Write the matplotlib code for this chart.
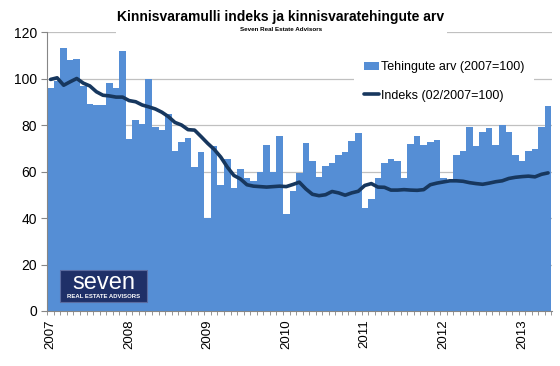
import numpy as np
import matplotlib
matplotlib.use('Agg')
import matplotlib.pyplot as plt
from matplotlib.patches import Rectangle

plt.rcParams['font.family'] = ['Liberation Sans', 'DejaVu Sans']

years = ['2007', '2008', '2009', '2010', '2011', '2012', '2013']

# Tehingute arv (2007=100), monthly Jan 2007 - May 2013
tehingud = [96.0, 99.0, 113.3, 108.0, 108.6, 96.7, 89.0, 88.8, 88.5, 98.0, 96.0, 111.8,
            74.0, 82.0, 80.3, 99.9, 79.0, 78.0, 84.7, 69.0, 72.6, 74.2, 62.0, 68.6,
            40.0, 70.8, 54.1, 65.3, 52.7, 61.1, 57.1, 55.8, 60.0, 71.2, 60.0, 75.2,
            41.9, 51.4, 59.4, 72.2, 64.4, 57.6, 62.4, 63.5, 67.3, 68.3, 73.2, 76.4,
            44.5, 48.1, 57.1, 63.6, 65.4, 64.6, 57.4, 72.0, 75.4, 71.6, 72.6, 73.5,
            57.4, 56.5, 67.0, 69.0, 79.1, 71.1, 77.0, 78.9, 71.5, 80.0, 77.1, 67.0,
            64.5, 68.8, 69.6, 79.1, 88.2]

# Indeks (02/2007=100)
indeks = [99.6, 100.3, 97.1, 98.6, 100.0, 98.0, 96.8, 94.3, 92.8, 92.5, 92.0, 92.0,
          90.5, 90.0, 88.6, 87.8, 86.9, 85.5, 83.6, 81.1, 80.0, 78.0, 77.8, 75.0,
          72.1, 69.5, 66.2, 61.9, 58.3, 56.8, 54.3, 53.7, 53.5, 53.3, 53.5, 53.7,
          53.5, 54.4, 55.4, 52.5, 50.2, 49.6, 50.0, 51.4, 50.8, 49.8, 50.8, 51.5,
          54.0, 54.8, 53.3, 53.2, 52.0, 52.0, 52.2, 52.0, 51.9, 52.2, 54.3, 55.0,
          55.5, 56.0, 56.0, 55.8, 55.2, 54.8, 54.5, 55.0, 55.6, 56.0, 57.0, 57.5,
          57.8, 58.0, 57.7, 58.8, 59.4]

x = np.arange(len(tehingud))

fig = plt.figure(figsize=(5.6, 3.66), dpi=100)
ax = fig.add_axes([47.3/560, 55/366, 504.7/560, 279/366])

bars = ax.bar(x, tehingud, width=1.0, color='#558ED5', label='Tehingute arv (2007=100)', zorder=2)
line, = ax.plot(x, indeks, color='#17375E', linewidth=2.6, label='Indeks (02/2007=100)', zorder=3,
                solid_capstyle='round')

ax.set_ylim(0, 120)
ax.set_xlim(-0.5, len(x) - 0.4)
ax.set_yticks(np.arange(0, 121, 20))
ax.yaxis.grid(True, color='#C0C0C0', linewidth=0.9, zorder=0)
ax.set_axisbelow(True)

ax.set_xticks(x[::12])
ax.set_xticklabels(years, rotation=90)
ax.set_xticks(np.arange(-0.5, len(x), 1), minor=True)
ax.tick_params(axis='x', which='major', length=0, pad=6, labelsize=9.5)
ax.tick_params(axis='x', which='minor', length=3, color='#868686', direction='out')
ax.tick_params(axis='y', length=4, color='#868686', labelsize=10)

for s in ['top', 'right']:
    ax.spines[s].set_visible(False)
for s in ['left', 'bottom']:
    ax.spines[s].set_color('#868686')

leg = ax.legend([bars, line], ['Tehingute arv (2007=100)', 'Indeks (02/2007=100)'],
                loc='upper left', bbox_to_anchor=(300/504.7, 1 - 13/279), frameon=True,
                fancybox=False, edgecolor='none', facecolor='white', framealpha=1,
                fontsize=9, labelspacing=1.3, handlelength=1.2, handletextpad=0.2,
                borderpad=0.8)

# title block hides the top gridline like in the original
fig.add_artist(Rectangle((116/560, 1 - 35/366), 331/560, 35/366, transform=fig.transFigure,
                         facecolor='white', edgecolor='none', zorder=1))
fig.text(281/560, 1 - 17/366, 'Kinnisvaramulli indeks ja kinnisvaratehingute arv',
         ha='center', va='center', fontsize=10, fontweight='bold', zorder=2)
fig.text(281/560, 1 - 29.5/366, 'Seven Real Estate Advisors', ha='center', va='center',
         fontsize=4.5, fontweight='bold', zorder=2)

# logo
fig.add_artist(Rectangle((60/560, 1 - 302/366), 87/560, 32/366, transform=fig.transFigure,
                         facecolor='#1F3068', edgecolor='#5A6BA0', linewidth=0.8, zorder=4))
fig.text(104/560, 1 - 283/366, 'seven', ha='center', va='center', color='white',
         fontsize=17, zorder=5)
fig.text(104/560, 1 - 297/366, 'REAL ESTATE ADVISORS', ha='center', va='center',
         color='white', fontsize=4.3, fontweight='bold', zorder=5)

fig.savefig('out.png', dpi=100, facecolor='white')
